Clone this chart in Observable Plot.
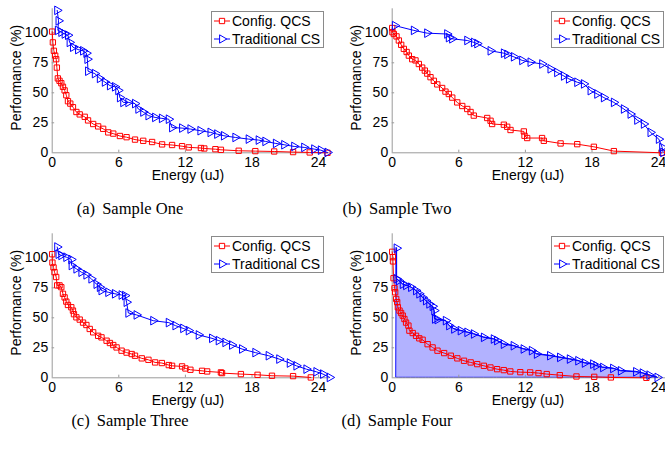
<!DOCTYPE html>
<html><head><meta charset="utf-8">
<script src="https://cdn.jsdelivr.net/npm/d3@7"></script>
<script src="https://cdn.jsdelivr.net/npm/@observablehq/plot@0.6"></script>
<style>
body{margin:0;background:#fff;}
#fig{position:relative;width:665px;height:452px;overflow:hidden;background:#fff;font-family:"Liberation Sans",Arial,sans-serif;}
.panel{position:absolute;}
.legend{position:absolute;box-sizing:border-box;border:1px solid #8a8a8a;background:#fff;width:113px;height:37px;font-size:14px;color:#000;}
.legend .row{position:absolute;left:1px;height:16px;display:flex;align-items:center;white-space:nowrap;}
.legend svg{display:block;margin-right:1px;}
.caption{position:absolute;transform:translateX(-50%);font-family:"Liberation Serif","Times New Roman",serif;font-size:16.5px;line-height:1;white-space:nowrap;color:#000;}
.caption span{margin-right:3px;}
</style>
</head><body>
<div id="fig"></div>
<script>
// ---- data (Energy in uJ, Performance in %) ----
const xTicks = [0, 6, 12, 18, 24];
const yTicks = [0, 25, 50, 75, 100];
const seriesNames = ["Config. QCS", "Traditional CS"];
const captions = ["(a)", "Sample One", "(b)", "Sample Two", "(c)", "Sample Three", "(d)", "Sample Four"];

// Sample One
const energyA_qcs = [0, 0.06, 0.15, 0.27, 0.36, 0.42, 0.51, 0.66, 0.82, 0.97, 1.12, 1.27, 1.42, 1.63, 1.87, 2.18, 2.48, 2.93, 3.23, 3.69, 4.14, 4.59, 5.05, 5.5, 6.1, 6.7, 7.46, 8.2, 9.0, 9.9, 10.8, 11.7, 12.3, 13.4, 13.7, 14.7, 15.2, 16.8, 18.3, 20.0, 21.7, 23.2, 24.8];
const perfA_qcs   = [101, 92, 85, 81, 78, 71, 62, 60, 58, 55, 52, 48, 43, 41, 38, 34, 32, 30, 27, 24, 22, 20, 17, 16, 14, 13, 11, 10, 9, 7, 6.5, 5.5, 4.5, 4, 3.6, 3, 2.5, 1.7, 1.4, 1.1, 0.6, 0.3, 0];
const energyA_cs  = [0.45, 0.57, 0.51, 0.82, 1.12, 1.42, 1.57, 1.87, 2.33, 2.78, 3.08, 3.17, 3.23, 3.84, 4.29, 4.74, 5.2, 5.65, 5.95, 6.1, 6.4, 6.86, 7.46, 7.76, 8.2, 8.67, 9.27, 9.88, 10.5, 10.8, 11.7, 12.45, 13.35, 14.26, 14.86, 15.47, 16.5, 17.7, 18.6, 19.2, 20.15, 20.9, 21.8, 22.7, 23.6, 24.2, 24.8];
const perfA_cs    = [118.7, 110, 102, 100.5, 99, 98, 92, 88, 86, 85, 83, 78, 68, 66, 62, 59, 56, 55, 52, 46, 42, 42, 41, 36.5, 34, 31, 29.5, 28.7, 28, 21, 20.6, 19.8, 18.4, 17, 15.6, 14.2, 12.8, 11.4, 10.6, 9.5, 7.8, 6.7, 5.3, 4.5, 3.1, 2.2, 0.3];

// Sample Two
const energyB_qcs = [0, 0.02, 0.15, 0.39, 0.6, 0.81, 1.05, 1.3, 1.5, 1.8, 2.1, 2.4, 2.7, 2.94, 3.16, 3.45, 3.75, 4.06, 4.5, 4.8, 5.1, 5.41, 5.86, 6.31, 6.76, 7.06, 7.35, 8.56, 8.86, 9.0, 10.06, 10.36, 10.66, 11.86, 11.92, 12.16, 13.5, 13.66, 15.17, 16.67, 18.17, 19.97, 24.3];
const perfB_qcs   = [104, 100.5, 99, 97, 93.6, 90, 86.6, 84, 81, 78, 77, 74, 71, 68.5, 66, 63, 60, 57, 54, 51, 49, 46, 42, 39, 36.5, 34, 31, 29, 26.7, 24, 23.4, 21.7, 19, 17.8, 14.2, 12.3, 12.3, 10, 7.8, 7.2, 5, 1.4, 0];
const energyB_cs  = [0.24, 1.95, 3.15, 4.95, 5.1, 5.4, 6.76, 7.36, 7.66, 8.86, 10.06, 10.36, 10.96, 11.71, 12.46, 13.51, 14.26, 14.86, 15.47, 15.92, 16.67, 17.27, 17.87, 18.47, 19.07, 19.97, 20.87, 21.47, 22.07, 22.67, 23.27, 24.02, 24.32, 24.41];
const perfB_cs    = [106, 102, 99.7, 99, 96, 95, 93.6, 92, 91, 85, 83, 82, 80, 77, 75.5, 74, 70, 67, 64, 61.6, 58.8, 57.4, 51.8, 49, 46, 42, 36.5, 32.3, 27.3, 24, 17, 11.4, 4.5, 0.3];

// Sample Three
const energyC_qcs = [0, 0.02, 0.12, 0.21, 0.36, 0.45, 0.66, 0.82, 0.97, 1.12, 1.27, 1.42, 1.72, 1.87, 1.96, 2.18, 2.48, 2.78, 3.08, 3.38, 3.69, 4.14, 4.44, 4.9, 5.2, 5.5, 5.8, 6.25, 6.7, 7.16, 7.46, 8.07, 8.67, 9.27, 9.88, 10.5, 10.8, 11.7, 12.0, 12.45, 13.5, 13.96, 15.2, 15.3, 17.0, 18.5, 19.8, 21.7, 23.3];
const perfC_qcs   = [103, 96, 92, 88, 84, 77, 77, 75.5, 70, 67, 63.5, 60.7, 58.8, 56, 53, 50.4, 48.5, 46, 44, 40.7, 37.9, 35, 33.7, 30.9, 29, 27.3, 25.3, 22.6, 21, 19.8, 18.4, 16.2, 15, 12.8, 12.3, 10.6, 10, 9.5, 7.8, 6.7, 5.8, 5.3, 4.5, 3.9, 3.1, 2.5, 1.7, 1.4, 0.3];
const energyC_cs  = [0.45, 0.57, 0.82, 1.27, 1.72, 1.75, 2.18, 2.63, 3.08, 3.53, 3.99, 4.29, 4.44, 5.05, 5.65, 6.25, 6.56, 6.7, 6.86, 7.6, 9.1, 10.5, 11.1, 11.8, 12.3, 13.2, 14.4, 15.0, 15.6, 16.2, 17.1, 18.3, 19.5, 20.45, 21.4, 22.0, 22.9, 23.8, 24.4, 25.0];
const perfC_cs    = [109, 103, 102, 100.5, 98.6, 93.6, 90.8, 88, 85.8, 82.5, 78, 75.5, 72.7, 71.3, 70, 69, 68.5, 63, 54, 52.4, 47.6, 46, 43.5, 41.2, 39.3, 35.7, 32.9, 31, 29.5, 27.3, 24, 21, 18.4, 15.6, 12.3, 10, 7.2, 5, 3.1, 0.3];

// Sample Four
const energyD_qcs = [0, 0.06, 0.07, 0.12, 0.21, 0.27, 0.36, 0.45, 0.51, 0.66, 0.8, 0.95, 1.1, 1.25, 1.46, 1.55, 1.85, 2.15, 2.44, 2.74, 3.19, 3.64, 4.08, 4.68, 5.28, 5.87, 6.47, 7.07, 7.66, 8.26, 8.85, 9.45, 10.05, 10.64, 11.54, 12.43, 13.18, 13.92, 15.1, 16.6, 18.2, 19.7, 22.9];
const perfD_qcs   = [105, 100.5, 97, 83, 74.6, 71.3, 65.7, 63, 58.8, 56, 54, 51.8, 49, 46, 43.5, 39.3, 37.3, 35, 32.9, 31.7, 28, 25.3, 22.6, 20.6, 18.4, 16.2, 14.2, 12.8, 11.4, 10, 8.6, 7.2, 6.4, 5.3, 4.7, 4.5, 3.9, 3.1, 2.2, 1.1, 0.8, 0.3, 0];
const energyD_cs  = [0.4, 0.4, 0.6, 0.95, 1.25, 1.7, 2.15, 2.44, 2.74, 3.04, 3.34, 3.64, 3.79, 3.85, 4.08, 4.83, 5.13, 5.58, 6.17, 6.77, 7.36, 8.26, 9.15, 9.45, 10.05, 10.94, 11.84, 12.58, 13.03, 14.22, 15.12, 16.0, 16.76, 17.35, 18.1, 18.4, 19.0, 19.9, 20.6, 21.97, 22.57, 23.17, 23.9];
const perfD_cs    = [108, 82.5, 81, 78, 77, 75.5, 72.7, 70, 67, 64.3, 61.6, 59.6, 56, 49, 48.5, 47.6, 43.5, 40.7, 39.3, 37.9, 36.5, 33.7, 32.3, 31, 28, 26.7, 24, 22.6, 19.8, 18.4, 17, 15.6, 14.2, 12.3, 11.4, 10, 8.6, 7.8, 5.8, 5, 3.9, 2.2, 0.3];

// ---- drawing ----
const RED = "#ff0000", BLUE = "#0000ff", AXIS = "#9a9a9a";
const FONT = "Liberation Sans, Arial, sans-serif";
const zip = (xs, ys) => xs.map((x, i) => ({x, y: ys[i]}));

function panel(qx, qy, cx, cy, shaded) {
  const q = zip(qx, qy), c = zip(cx, cy);
  return Plot.plot({
    width: 335, height: 200,
    marginLeft: 51.7, marginRight: 5.8, marginTop: 8.3, marginBottom: 47.7,
    x: {domain: [0, 25]},
    y: {domain: [0, 120]},
    style: {fontFamily: FONT, fontSize: "14px", background: "transparent", color: "#000", overflow: "visible"},
    marks: [
      shaded ? Plot.areaY(c, {x: "x", y1: 0, y2: "y", fill: BLUE, fillOpacity: 0.3, stroke: BLUE, strokeWidth: 1}) : null,
      Plot.ruleY([0], {stroke: AXIS}),
      Plot.ruleX([0], {stroke: AXIS}),
      Plot.ruleX(xTicks.slice(1), {x: d => d, y1: 0, y2: 2.2, stroke: AXIS}),
      Plot.ruleY(yTicks.slice(1), {y: d => d, x1: 0, x2: 0.22, stroke: AXIS}),
      Plot.axisX({ticks: xTicks, tickSize: 0, tickPadding: 4, label: null, fontSize: 14, tickFormat: d => d}),
      Plot.axisY({ticks: yTicks, tickSize: 0, tickPadding: 4, label: null, fontSize: 14, tickFormat: d => d}),
      Plot.line(q, {x: "x", y: "y", stroke: RED, strokeWidth: 1}),
      Plot.dot(q, {x: "x", y: "y", symbol: "square", r: 3, stroke: RED, fill: "none", strokeWidth: 1}),
      Plot.line(c, {x: "x", y: "y", stroke: BLUE, strokeWidth: 1}),
      Plot.dot(c, {x: "x", y: "y", symbol: "triangle", rotate: 90, r: 3.2, stroke: BLUE, fill: "none", strokeWidth: 1}),
      Plot.text(["Energy (uJ)"], {frameAnchor: "bottom", lineAnchor: "middle", textAnchor: "middle", dy: 22.5, dx: -3, fontSize: 14}),
      Plot.text(["Performance (%)"], {frameAnchor: "left", textAnchor: "middle", lineAnchor: "middle", rotate: -90, dx: -36, dy: -3, fontSize: 14})
    ]
  });
}

function legend(left, top) {
  const div = document.createElement("div");
  div.className = "legend";
  div.style.left = left + "px";
  div.style.top = top + "px";
  const rows = [
    {name: seriesNames[0], color: RED, sym: d3.symbolSquare, rot: 0, y: 1},
    {name: seriesNames[1], color: BLUE, sym: d3.symbolTriangle, rot: 90, y: 19}
  ];
  for (const r of rows) {
    const row = document.createElement("div");
    row.className = "row";
    row.style.top = r.y + "px";
    const svg = d3.create("svg").attr("width", 18).attr("height", 16);
    svg.append("line").attr("x1", 1).attr("x2", 17).attr("y1", 8).attr("y2", 8).attr("stroke", r.color);
    svg.append("path").attr("d", d3.symbol(r.sym, r.sym === d3.symbolSquare ? 28 : 30)())
      .attr("transform", `translate(9,8) rotate(${r.rot})`).attr("fill", "#fff").attr("stroke", r.color);
    row.appendChild(svg.node());
    const t = document.createElement("span");
    t.textContent = r.name;
    row.appendChild(t);
    div.appendChild(row);
  }
  return div;
}

const fig = document.getElementById("fig");
const specs = [
  {left: 0,   top: 0,   q: [energyA_qcs, perfA_qcs], c: [energyA_cs, perfA_cs], shaded: false, cap: 0, capX: 130, capY: 201},
  {left: 340, top: 0,   q: [energyB_qcs, perfB_qcs], c: [energyB_cs, perfB_cs], shaded: false, cap: 2, capX: 397, capY: 201},
  {left: 0,   top: 225, q: [energyC_qcs, perfC_qcs], c: [energyC_cs, perfC_cs], shaded: false, cap: 4, capX: 130, capY: 413},
  {left: 340, top: 225, q: [energyD_qcs, perfD_qcs], c: [energyD_cs, perfD_cs], shaded: true,  cap: 6, capX: 397, capY: 413}
];
for (const s of specs) {
  const p = panel(s.q[0], s.q[1], s.c[0], s.c[1], s.shaded);
  p.classList.add("panel");
  p.style.left = s.left + "px";
  p.style.top = s.top + "px";
  fig.appendChild(p);
  fig.appendChild(legend(s.left + 211, s.top + 11));
  const cap = document.createElement("div");
  cap.className = "caption";
  cap.style.left = s.capX + "px";
  cap.style.top = s.capY + "px";
  const a = document.createElement("span");
  a.textContent = captions[s.cap];
  cap.appendChild(a);
  cap.appendChild(document.createTextNode(" " + captions[s.cap + 1]));
  fig.appendChild(cap);
}
</script>
</body></html>
